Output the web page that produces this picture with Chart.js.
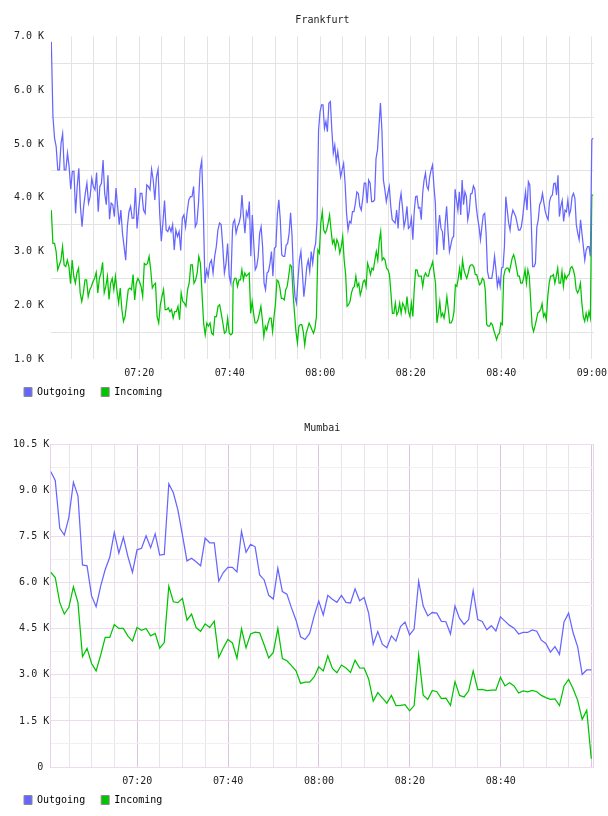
<!DOCTYPE html>
<html>
<head>
<meta charset="utf-8">
<script src="https://cdn.jsdelivr.net/npm/chart.js@4.4.1/dist/chart.umd.min.js"></script>
<style>
  html, body { margin: 0; padding: 0; background: #fff; overflow: hidden; }
  canvas { display: block; }
</style>
</head>
<body>
<canvas id="fra" width="615" height="408"></canvas>
<canvas id="bom" width="608" height="408"></canvas>
<script>
// Frankfurt, values in K, read in three 40 minute blocks (20 s samples)
const fraBlocks = [[0.58, 40.6], [40.75, 80.45], [80.75, 120.3]]; // minutes after 07:00

const fraOut0700 = [6.90,5.51,5.11,4.95,4.52,4.52,5.01,5.19,4.52,4.52,
  4.83,4.58,4.16,4.49,4.49,3.71,4.21,4.55,3.84,3.46,
  3.84,4.08,4.27,3.90,4.02,4.36,4.21,4.15,4.47,3.74,
  4.21,4.27,4.70,4.08,3.87,4.42,3.60,3.90,3.87,3.65,
  4.18,3.84,3.50,3.77,3.34,3.09,2.84,3.46,3.74,3.84,
  3.62,3.62,4.18,3.43,3.77,4.08,4.08,3.77,3.71,4.24,
  4.21,4.15,4.53,4.33,3.96,4.39,4.53,3.71,3.19,3.53,
  3.95,3.40,3.37,3.46,3.37,3.50,3.03,3.40,3.28,3.37,
  3.02,3.62,3.68,3.46,3.74,3.96,4.02,4.02,4.21,3.46,
  3.53,3.90,4.52,4.69,3.71,2.41,2.66,2.54,2.78,2.84,
  2.60,2.91,3.09,3.40,3.53,3.50,3.09,2.60,2.78,3.15,
  2.54,2.41,3.40];
const fraIn0700 = [3.77,3.15,3.15,3.00,2.66,2.75,2.84,3.09,2.75,2.72,
  2.84,2.72,2.40,2.84,2.54,2.41,2.60,2.69,2.23,2.07,
  2.23,2.47,2.47,2.16,2.29,2.35,2.44,2.50,2.61,2.23,
  2.50,2.60,2.80,2.23,2.35,2.54,2.11,2.41,2.50,2.29,
  2.54,2.26,2.04,2.32,1.92,1.70,1.79,2.04,2.29,2.32,
  2.29,2.57,2.10,2.41,2.50,2.44,2.35,2.16,2.78,2.75,
  2.78,2.91,2.66,2.32,2.38,2.41,1.79,1.67,2.01,2.16,
  2.29,1.92,1.92,1.95,1.88,1.92,1.76,1.88,1.88,1.98,
  1.73,2.23,2.07,2.04,1.98,2.29,2.41,2.75,2.75,2.41,
  2.47,2.60,2.91,2.78,2.23,1.67,1.45,1.67,1.61,1.67,
  1.48,1.45,1.79,1.79,1.98,2.01,1.85,1.67,1.48,1.51,
  1.76,1.48,1.45,1.48];

const fraOut0740 = [3.53,3.59,3.34,3.46,3.53,3.65,4.05,3.65,3.34,3.74,
  3.65,3.93,2.91,3.68,3.15,2.66,2.72,2.91,3.34,3.46,
  3.09,2.41,2.29,2.60,2.63,2.78,3.00,2.54,3.06,3.09,
  3.68,3.96,3.59,2.94,2.91,2.91,3.12,3.15,3.34,3.72,
  3.28,2.54,2.16,2.04,2.47,2.84,3.00,2.60,2.16,2.41,
  2.72,2.84,2.63,3.00,2.78,3.03,3.15,3.59,5.26,5.60,
  5.73,5.73,5.29,5.42,5.23,5.76,5.79,5.26,4.83,4.98,
  4.67,4.86,4.64,4.39,4.52,4.64,4.27,3.71,3.40,3.56,
  3.53,3.74,3.74,3.90,4.11,4.08,3.84,3.77,3.99,4.27,
  4.27,3.90,4.33,4.27,3.93,3.93,3.96,4.73,4.89,5.32,
  5.76,5.26,4.33,4.15,3.93,4.08,4.21,3.84,3.59,3.56,
  3.53,3.77,3.43,3.90,4.08,3.81,3.46,3.59,3.84,3.43,
  3.46,3.62,3.22];
const fraIn0740 = [2.41,2.50,2.50,2.35,2.47,2.47,2.66,2.47,2.60,2.54,
  2.57,2.60,1.85,2.07,1.85,1.67,1.67,1.73,1.85,1.98,
  1.73,1.42,1.61,1.54,1.67,1.76,1.76,1.51,1.79,2.04,
  2.47,2.44,2.32,2.13,2.13,2.10,2.29,2.35,2.54,2.75,
  2.72,2.23,1.85,1.51,1.30,1.61,1.64,1.64,1.51,1.26,
  1.48,1.57,1.67,1.61,1.54,1.48,1.57,1.79,3.03,2.97,
  3.53,3.74,3.40,3.34,3.40,3.53,3.68,3.40,3.15,3.22,
  3.06,3.22,3.15,2.97,3.09,3.28,2.84,2.57,1.98,2.01,
  2.07,2.23,2.32,2.35,2.54,2.35,2.41,2.19,2.29,2.44,
  2.47,2.35,2.78,2.69,2.57,2.69,2.66,2.84,3.00,2.84,
  3.19,3.37,2.84,2.88,2.84,2.69,2.66,2.57,2.23,1.85,
  1.85,2.04,1.82,1.88,2.04,1.85,2.04,1.98,1.88,2.16,
  1.88,1.79,2.04,1.79];

const fraOut0820 = [3.74,4.02,4.03,3.81,3.82,3.59,4.08,4.33,4.46,4.21,
  4.15,4.39,4.52,4.61,4.21,3.90,2.94,3.40,3.68,3.43,
  3.37,3.03,3.53,3.84,3.37,3.00,3.12,3.25,3.28,4.16,
  3.96,3.77,4.11,3.68,4.33,3.87,4.11,4.02,3.59,3.74,
  4.07,4.08,4.22,4.16,3.84,3.62,3.46,3.22,3.46,3.68,
  3.71,3.34,2.63,2.50,2.50,2.50,2.66,2.91,2.66,2.35,
  2.50,2.35,2.69,2.71,3.09,4.02,3.77,3.53,3.40,3.65,
  3.77,3.71,3.65,3.53,3.40,3.40,3.46,3.65,3.90,4.11,
  3.77,4.30,4.24,3.59,2.72,2.72,2.78,3.46,3.59,3.87,
  3.93,4.08,3.90,3.74,3.65,3.59,3.93,4.02,4.05,4.26,
  4.27,4.05,4.42,3.65,3.84,3.95,3.56,3.77,3.74,3.96,
  3.68,3.77,4.02,4.08,3.99,3.50,3.34,3.22,3.59,3.34,
  3.09,2.84,3.03,3.09,3.09,2.91,5.08,5.11];
const fraIn0820 = [2.29,2.66,2.66,2.54,2.54,2.54,2.35,2.54,2.60,2.54,
  2.54,2.66,2.72,2.81,2.60,2.41,1.67,1.85,2.07,1.79,
  1.85,1.76,1.92,2.16,1.92,1.67,1.67,1.73,1.88,2.38,
  2.35,2.50,2.69,2.47,2.84,2.66,2.57,2.50,2.60,2.72,
  2.75,2.75,2.71,2.57,2.57,2.47,2.38,2.41,2.50,2.47,
  2.29,1.64,1.61,1.61,1.67,1.64,1.54,1.45,1.36,1.45,
  1.48,1.67,1.64,2.54,2.66,2.69,2.69,2.63,2.75,2.88,
  2.94,2.84,2.69,2.54,2.54,2.41,2.41,2.50,2.66,2.41,
  2.66,2.54,2.07,1.61,1.51,1.61,1.73,1.86,1.88,1.92,
  2.03,1.79,1.85,1.73,2.16,2.41,2.54,2.54,2.57,2.41,
  2.54,2.69,2.41,2.41,2.63,2.35,2.57,2.49,2.55,2.57,
  2.69,2.72,2.66,2.54,2.29,2.23,2.29,2.41,2.04,1.79,
  1.70,1.85,1.73,1.88,1.76,4.05,4.05];

// Mumbai, values in K, one sample a minute from 07:00:56
const bomStart = 0.94;
const bomOut = [9.62,9.33,7.77,7.55,8.13,9.27,8.83,6.58,6.55,5.57,
  5.22,5.89,6.43,6.83,7.64,6.96,7.48,6.85,6.34,7.07,
  7.12,7.53,7.14,7.59,6.90,6.92,9.22,8.93,8.37,7.55,
  6.71,6.80,6.68,6.55,7.45,7.30,7.30,6.05,6.33,6.50,
  6.50,6.35,7.67,6.99,7.25,7.17,6.25,6.09,5.59,5.47,
  6.47,5.71,5.63,5.18,4.78,4.24,4.15,4.35,4.92,5.40,
  4.95,5.59,5.46,5.36,5.59,5.36,5.34,5.80,5.41,5.52,
  5.00,4.00,4.41,4.00,3.88,4.27,4.10,4.57,4.72,4.30,
  4.49,6.05,5.24,4.92,5.03,5.01,4.74,4.73,4.33,5.24,
  4.84,4.64,4.80,5.74,4.80,4.74,4.47,4.60,4.43,4.89,
  4.75,4.61,4.52,4.33,4.38,4.38,4.46,4.42,4.13,4.02,
  3.74,3.92,3.67,4.72,5.01,4.37,3.91,3.01,3.16,3.16];
const bomIn = [6.34,6.17,5.35,4.98,5.20,5.87,5.35,3.59,3.86,3.37,
  3.13,3.64,4.22,4.22,4.64,4.51,4.51,4.26,4.10,4.54,
  4.45,4.51,4.27,4.35,3.87,4.05,5.89,5.38,5.35,5.49,
  4.78,4.98,4.54,4.42,4.66,4.54,4.75,3.57,3.88,4.15,
  4.04,3.54,4.50,3.88,4.33,4.39,4.37,3.97,3.55,3.73,
  4.51,3.53,3.46,3.30,3.13,2.72,2.76,2.76,2.93,3.26,
  3.13,3.62,3.21,3.07,3.32,3.22,3.08,3.48,3.23,3.22,
  2.86,2.14,2.42,2.25,2.08,2.33,2.00,2.01,2.03,1.83,
  2.00,3.65,2.34,2.20,2.49,2.45,2.23,2.24,2.01,2.78,
  2.33,2.28,2.48,3.13,2.52,2.53,2.49,2.50,2.50,2.92,
  2.64,2.74,2.64,2.41,2.48,2.45,2.49,2.45,2.33,2.26,
  2.20,2.22,2.00,2.64,2.85,2.55,2.17,1.55,1.85,0.27];

const seriesNames = ['Outgoing', 'Incoming'];
const seriesColors = ['#6666ff', '#00c400'];

Chart.defaults.font.family = "'DejaVu Sans Mono', monospace";
Chart.defaults.font.size = 10;
Chart.defaults.color = '#222';

const clock = m => {
  const h = 7 + Math.floor(m / 60), mm = m % 60;
  return String(h).padStart(2, '0') + ':' + String(mm).padStart(2, '0');
};

function spread(values, t0, t1) {
  return values.map((v, i) => ({ x: t0 + (t1 - t0) * i / (values.length - 1), y: v }));
}

const near = (a, b) => Math.abs(a - b) < 1e-6;

// right edge of the plot frame (the Mumbai graph has a box round it)
const frame = {
  id: 'frame',
  beforeDatasetsDraw(chart, args, opts) {
    if (!opts.color) return;
    const { ctx, chartArea: a } = chart;
    ctx.save();
    ctx.strokeStyle = opts.color;
    ctx.lineWidth = 1;
    ctx.beginPath();
    ctx.moveTo(Math.floor(a.right) + 0.5, Math.floor(a.top) + 0.5);
    ctx.lineTo(Math.floor(a.right) + 0.5, Math.floor(a.bottom) + 0.5);
    ctx.stroke();
    ctx.restore();
  }
};

// the x axis is kept thin so the legend sits close under it;
// widen its box afterwards so the time labels are not clipped
const labelRoom = {
  id: 'labelRoom',
  afterLayout(chart) {
    const x = chart.scales.x;
    x.bottom = x.top + 26;
  }
};

function makeChart(id, cfg) {
  return new Chart(document.getElementById(id), {
    type: 'line',
    data: {
      datasets: cfg.series.map((d, i) => ({
        label: seriesNames[i],
        data: d,
        borderColor: seriesColors[i],
        borderWidth: 1.25,
        pointRadius: 0,
        tension: 0,
        fill: false
      }))
    },
    options: {
      responsive: false,
      animation: false,
      events: [],
      layout: { padding: { left: 8, right: 14.3, top: 0, bottom: 1 } },
      scales: {
        x: {
          type: 'linear',
          min: cfg.xMin,
          max: cfg.xMax,
          afterFit: s => { s.height = 12; },
          border: { display: false },
          grid: {
            drawTicks: false,
            color: c => cfg.vGrid(c.tick.value)
          },
          ticks: {
            stepSize: 5,
            includeBounds: false,
            autoSkip: false,
            maxRotation: 0,
            padding: 8,
            callback: v => cfg.xLabel(v)
          }
        },
        y: {
          min: cfg.yMin,
          max: cfg.yMax,
          afterFit: s => { s.width = cfg.yWidth; },
          border: { display: !!cfg.frame, color: cfg.frame || 'transparent' },
          grid: {
            drawTicks: false,
            color: c => cfg.hGrid(c.tick.value)
          },
          ticks: {
            stepSize: cfg.yStep,
            autoSkip: false,
            padding: cfg.yPad,
            callback: v => cfg.yLabel(v)
          }
        }
      },
      plugins: {
        frame: { color: cfg.frame },
        title: {
          display: true,
          text: cfg.title,
          fullSize: false,
          color: '#222',
          font: { size: 10, weight: 'normal' },
          padding: { top: 14, bottom: 10.5 }
        },
        legend: {
          position: 'bottom',
          align: 'start',
          labels: {
            boxWidth: 8,
            boxHeight: 9,
            padding: 16,
            color: '#111',
            generateLabels: chart => chart.data.datasets.map((ds, i) => ({
              text: ds.label,
              fillStyle: ds.borderColor,
              strokeStyle: '#8c8c8c',
              lineWidth: 1,
              hidden: false,
              datasetIndex: i
            }))
          }
        },
        tooltip: { enabled: false }
      }
    },
    plugins: [frame, labelRoom]
  });
}

makeChart('fra', {
  title: 'Frankfurt',
  series: [
    [...spread(fraOut0700, ...fraBlocks[0]), ...spread(fraOut0740, ...fraBlocks[1]), ...spread(fraOut0820, ...fraBlocks[2])],
    [...spread(fraIn0700, ...fraBlocks[0]), ...spread(fraIn0740, ...fraBlocks[1]), ...spread(fraIn0820, ...fraBlocks[2])]
  ],
  xMin: 0.51, xMax: 120.45,
  yMin: 1, yMax: 7, yStep: 0.5, yWidth: 43, yPad: 7,
  xLabel: v => (v % 20 === 0 && v > 0) ? clock(v) : '',
  yLabel: v => near(v, Math.round(v)) ? v.toFixed(1) + ' K' : '',
  vGrid: () => '#e3e3e3',
  hGrid: v => near(v, Math.round(v)) ? 'rgba(0,0,0,0)' : '#e3e3e3'
});

makeChart('bom', {
  title: 'Mumbai',
  series: [
    bomOut.map((v, i) => ({ x: bomStart + i, y: v })),
    bomIn.map((v, i) => ({ x: bomStart + i, y: v }))
  ],
  xMin: 0.94, xMax: 120.47,
  yMin: 0, yMax: 10.5, yStep: 0.75, yWidth: 42.7, yPad: 1.5,
  frame: '#e8d4e8',
  xLabel: v => (v % 20 === 0 && v > 0 && v < 120) ? clock(v) : '',
  yLabel: v => {
    const q = v / 1.5;
    if (!near(q, Math.round(q))) return '';
    return v === 0 ? '0 ' : v.toFixed(1) + ' K';
  },
  vGrid: v => v % 20 === 0 ? '#dcc4dc' : '#ece2ec',
  hGrid: v => near(v / 1.5, Math.round(v / 1.5)) ? '#ecdcec' : '#f2eff2'
});
</script>
</body>
</html>
